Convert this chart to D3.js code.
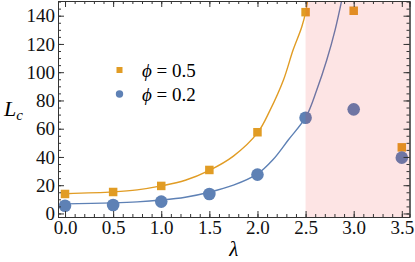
<!DOCTYPE html>
<html>
<head>
<meta charset="utf-8">
<script src="https://cdn.jsdelivr.net/npm/d3@7"></script>
<style>
  body { margin: 0; background: #fff; }
</style>
</head>
<body>
<div id="chart"></div>
<script>
// donnees
const lambdas = [0, 0.5, 1.0, 1.5, 2.0, 2.5, 3.0, 3.5]
const phi05 = [13.8, 15.2, 19.5, 30.8, 57.5, 142.5, 143.5, 46.8]
const phi02 = [5.5, 6, 8.4, 13.8, 27.5, 67.8, 73.7, 39.5]

// courbes d'ajustement (points releves le long des traits)
const fit05_x = [0, 0.5, 0.75, 1.0, 1.25, 1.5, 1.75, 2.0, 2.13, 2.27, 2.37, 2.46, 2.505, 2.52]
const fit05_y = [14, 15.3, 16.7, 19.5, 23.5, 30.5, 40.6, 57, 73, 94.5, 115.7, 132, 144, 151]
const fit02_x = [0, 0.5, 0.75, 1.0, 1.25, 1.5, 1.75, 2.0, 2.16, 2.32, 2.505, 2.616, 2.72, 2.807, 2.876]
const fit02_y = [6.8, 7.5, 8.2, 9.5, 11.5, 15, 20, 28, 38, 52, 68.5, 87.4, 108.6, 130, 151]

const xTicks = [0, 0.5, 1.0, 1.5, 2.0, 2.5, 3.0, 3.5]
const yTicks = [0, 20, 40, 60, 80, 100, 120, 140]
const shadeFrom = 2.5

const width = 415, height = 262
const orange = "#e19c24", blue = "#5e81b5"
const serif = "Liberation Serif"

const svg = d3.select("#chart")
  .append("svg")
    .attr("width", width)
    .attr("height", height)

const x = d3.scaleLinear().domain([-0.073, 3.58]).range([58, 409.5])
const y = d3.scaleLinear().domain([-2.5, 150.4]).range([217, 1])

svg.append("clipPath").attr("id", "clip")
  .append("rect")
    .attr("x", x.range()[0]).attr("y", y.range()[1])
    .attr("width", x.range()[1] - x.range()[0])
    .attr("height", y.range()[0] - y.range()[1])

const plot = svg.append("g").attr("clip-path", "url(#clip)")

// courbes
const line = d3.line().x(d => x(d[0])).y(d => y(d[1])).curve(d3.curveCatmullRom.alpha(0.5))
plot.append("path")
  .datum(d3.zip(fit05_x, fit05_y))
  .attr("d", line).attr("fill", "none").attr("stroke", orange).attr("stroke-width", 1.4)
plot.append("path")
  .datum(d3.zip(fit02_x, fit02_y))
  .attr("d", line).attr("fill", "none").attr("stroke", blue).attr("stroke-width", 1.4)

// points
const sq = 8.5
plot.selectAll(".sq")
  .data(d3.zip(lambdas, phi05))
  .join("rect")
    .attr("x", d => x(d[0]) - sq / 2)
    .attr("y", d => y(d[1]) - sq / 2)
    .attr("width", sq).attr("height", sq)
    .attr("fill", orange)
plot.selectAll(".ci")
  .data(d3.zip(lambdas, phi02))
  .join("circle")
    .attr("cx", d => x(d[0]))
    .attr("cy", d => y(d[1]))
    .attr("r", 6.3)
    .attr("fill", blue)

// zone rose
plot.append("rect")
  .attr("x", x(shadeFrom)).attr("y", y.range()[1])
  .attr("width", x.range()[1] - x(shadeFrom))
  .attr("height", y.range()[0] - y.range()[1])
  .attr("fill", "rgb(238,30,30)")
  .attr("fill-opacity", 0.12)

// axes (graduations vers l'interieur sur les 4 cotes)
const xMinor = d3.range(0, 36).map(i => i / 10)
const yMinor = d3.range(0, 151, 5)
const fmtX = d3.format(".1f")

function addAxis(axis, transform) {
  const g = svg.append("g").attr("transform", transform).call(axis)
  g.attr("font-family", serif).attr("font-size", 19)
  g.select(".domain").attr("stroke", "#333").attr("stroke-width", 1)
  g.selectAll(".tick line").attr("stroke", "#333")
  g.selectAll("text").attr("fill", "#111")
  return g
}

const H = y.range()[0], T = y.range()[1], L = x.range()[0], R = x.range()[1]

addAxis(d3.axisBottom(x).tickValues(xMinor).tickSize(-3).tickFormat(""), `translate(0,${H})`)
addAxis(d3.axisBottom(x).tickValues(xTicks).tickSizeInner(-6).tickSizeOuter(0).tickPadding(3).tickFormat(fmtX), `translate(0,${H})`)
addAxis(d3.axisTop(x).tickValues(xMinor).tickSize(-3).tickFormat(""), `translate(0,${T})`)
addAxis(d3.axisTop(x).tickValues(xTicks).tickSize(-6).tickFormat(""), `translate(0,${T})`)

addAxis(d3.axisLeft(y).tickValues(yMinor).tickSize(-3).tickFormat(""), `translate(${L},0)`)
addAxis(d3.axisLeft(y).tickValues(yTicks).tickSizeInner(-6).tickSizeOuter(0).tickPadding(3), `translate(${L},0)`)
addAxis(d3.axisRight(y).tickValues(yMinor).tickSize(-3).tickFormat(""), `translate(${R},0)`)
addAxis(d3.axisRight(y).tickValues(yTicks).tickSize(-6).tickFormat(""), `translate(${R},0)`)

// titres des axes
svg.append("text")
  .attr("x", (L + R) / 2).attr("y", 256)
  .attr("text-anchor", "middle")
  .attr("font-family", serif).attr("font-size", 21).attr("font-style", "italic")
  .text("λ")
const yl = svg.append("text")
  .attr("x", 4).attr("y", 116)
  .attr("font-family", serif).attr("font-size", 22).attr("font-style", "italic")
yl.append("tspan").text("L")
yl.append("tspan").attr("dy", 4).attr("font-size", 15).text("c")

// legende
const legend = [
  {label: "0.5", color: orange, shape: "square", yy: 70},
  {label: "0.2", color: blue, shape: "circle", yy: 94}
]
legend.forEach(l => {
  if (l.shape === "square") {
    svg.append("rect").attr("x", 119.5 - 3).attr("y", l.yy - 3)
      .attr("width", 6).attr("height", 6).attr("fill", l.color)
  } else {
    svg.append("circle").attr("cx", 119.5).attr("cy", l.yy).attr("r", 3.7).attr("fill", l.color)
  }
  const t = svg.append("text").attr("x", 142).attr("y", l.yy + 7)
    .attr("font-family", serif).attr("font-size", 19)
  t.append("tspan").attr("font-style", "italic").text("ϕ")
  t.append("tspan").text(" = " + l.label)
})
</script>
</body>
</html>
